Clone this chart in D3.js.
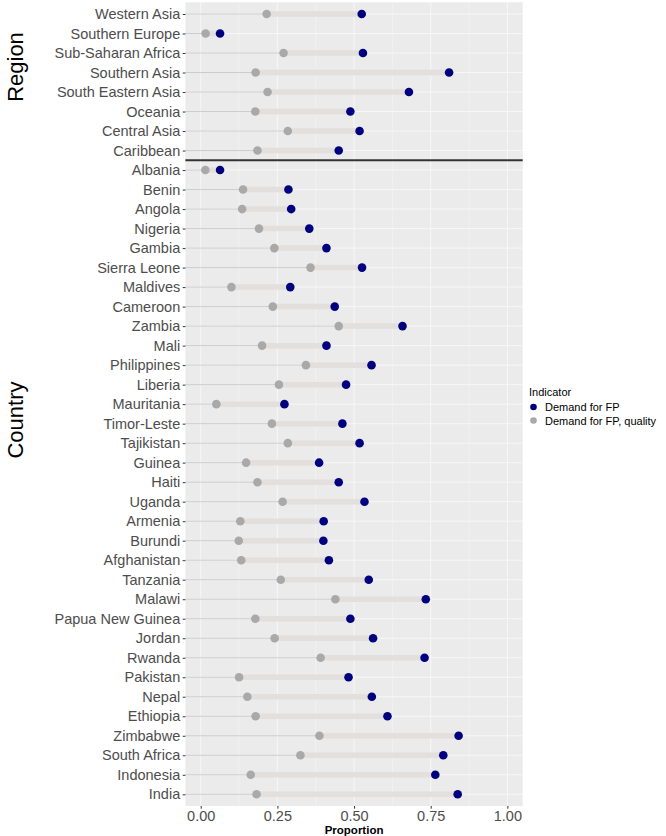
<!DOCTYPE html>
<html>
<head>
<meta charset="utf-8">
<script src="https://cdn.jsdelivr.net/npm/d3@7"></script>
<style>
  body { margin: 0; background: #fff; }
  svg text { font-family: "Liberation Sans", Arial, sans-serif; }
</style>
</head>
<body>
<svg id="chart"></svg>
<script>
// regions (top block) and countries (bottom block), listed top to bottom
const regions = ['Western Asia', 'Southern Europe', 'Sub-Saharan Africa', 'Southern Asia',
  'South Eastern Asia', 'Oceania', 'Central Asia', 'Caribbean'];
const regionDemand = [0.525, 0.063, 0.529, 0.810, 0.679, 0.488, 0.518, 0.450];
const regionQuality = [0.215, 0.016, 0.270, 0.179, 0.218, 0.178, 0.284, 0.185];

const countries = ['Albania', 'Benin', 'Angola', 'Nigeria', 'Gambia', 'Sierra Leone', 'Maldives',
  'Cameroon', 'Zambia', 'Mali', 'Philippines', 'Liberia', 'Mauritania', 'Timor-Leste', 'Tajikistan',
  'Guinea', 'Haiti', 'Uganda', 'Armenia', 'Burundi', 'Afghanistan', 'Tanzania', 'Malawi',
  'Papua New Guinea', 'Jordan', 'Rwanda', 'Pakistan', 'Nepal', 'Ethiopia', 'Zimbabwe',
  'South Africa', 'Indonesia', 'India'];
const countryDemand = [0.063, 0.286, 0.295, 0.354, 0.410, 0.526, 0.292, 0.437, 0.658, 0.410,
  0.557, 0.474, 0.273, 0.462, 0.518, 0.386, 0.450, 0.534, 0.401, 0.400, 0.418, 0.548, 0.734,
  0.488, 0.562, 0.730, 0.482, 0.558, 0.609, 0.841, 0.791, 0.765, 0.838];
const countryQuality = [0.015, 0.138, 0.135, 0.190, 0.240, 0.358, 0.100, 0.235, 0.450, 0.200,
  0.343, 0.255, 0.051, 0.232, 0.284, 0.148, 0.185, 0.267, 0.129, 0.124, 0.132, 0.261, 0.439,
  0.178, 0.241, 0.391, 0.125, 0.152, 0.179, 0.387, 0.325, 0.163, 0.182];

const xTicks = [0, 0.25, 0.5, 0.75, 1];
const xMinor = [0.125, 0.375, 0.625, 0.875];
const legendLabels = ['Demand for FP', 'Demand for FP, quality'];

const W = 666, H = 836;
const panel = {left: 185.4, right: 522.7, top: 2.3, bottom: 806};
const navy = '#00007f', grey = '#a9a9a9';

const rows = regions.map((r, i) => ({name: r, demand: regionDemand[i], quality: regionQuality[i]}))
  .concat(countries.map((c, i) => ({name: c, demand: countryDemand[i], quality: countryQuality[i]})));

const svg = d3.select('#chart').attr('width', W).attr('height', H);

const x = d3.scaleLinear().domain([-0.05, 1.05]).range([panel.left, panel.right]);
const y = d3.scalePoint().domain(rows.map(d => d.name))
  .range([panel.top, panel.bottom]).padding(0.6);

// panel background + grid
svg.append('rect')
  .attr('x', panel.left).attr('y', panel.top)
  .attr('width', panel.right - panel.left).attr('height', panel.bottom - panel.top)
  .attr('fill', '#ebebeb');

const grid = svg.append('g');
grid.selectAll('.minor').data(xMinor).join('line')
  .attr('x1', d => x(d)).attr('x2', d => x(d))
  .attr('y1', panel.top).attr('y2', panel.bottom)
  .attr('stroke', '#f5f5f5').attr('stroke-width', 0.6);
grid.selectAll('.major').data(xTicks).join('line')
  .attr('x1', d => x(d)).attr('x2', d => x(d))
  .attr('y1', panel.top).attr('y2', panel.bottom)
  .attr('stroke', '#f7f7f7').attr('stroke-width', 1);
grid.selectAll('.hrow').data(rows).join('line')
  .attr('x1', panel.left).attr('x2', panel.right)
  .attr('y1', d => y(d.name)).attr('y2', d => y(d.name))
  .attr('stroke', '#f7f7f7').attr('stroke-width', 1);

// thin stem up to the quality point
svg.append('g').selectAll('line').data(rows).join('line')
  .attr('x1', panel.left).attr('x2', d => x(d.quality))
  .attr('y1', d => y(d.name)).attr('y2', d => y(d.name))
  .attr('stroke', '#cccccc').attr('stroke-width', 1);

// thick band between quality and demand
svg.append('g').selectAll('line').data(rows).join('line')
  .attr('x1', d => x(d.quality)).attr('x2', d => x(d.demand))
  .attr('y1', d => y(d.name)).attr('y2', d => y(d.name))
  .attr('stroke', '#e2dfdc').attr('stroke-width', 5.5);

svg.append('g').selectAll('circle').data(rows).join('circle')
  .attr('cx', d => x(d.quality)).attr('cy', d => y(d.name)).attr('r', 4.3)
  .attr('fill', grey);
svg.append('g').selectAll('circle').data(rows).join('circle')
  .attr('cx', d => x(d.demand)).attr('cy', d => y(d.name)).attr('r', 4.3)
  .attr('fill', navy);

// divider between regions and countries
const yDiv = (y(regions[regions.length - 1]) + y(countries[0])) / 2;
svg.append('line')
  .attr('x1', panel.left).attr('x2', panel.right)
  .attr('y1', yDiv).attr('y2', yDiv)
  .attr('stroke', '#333').attr('stroke-width', 2);

// axes
const yAxis = svg.append('g')
  .attr('transform', `translate(${panel.left},0)`)
  .call(d3.axisLeft(y).tickSize(2.7).tickPadding(2.5));
yAxis.select('.domain').remove();
yAxis.selectAll('line').attr('stroke', '#333');
yAxis.selectAll('text').attr('fill', '#4d4d4d').style('font-size', '14.5px')
  .style('font-family', '"Liberation Sans", Arial, sans-serif');

const xAxis = svg.append('g')
  .attr('transform', `translate(0,${panel.bottom})`)
  .call(d3.axisBottom(x).tickValues(xTicks).tickFormat(d3.format('.2f')).tickSize(2.7).tickPadding(2));
xAxis.select('.domain').remove();
xAxis.selectAll('line').attr('stroke', '#333');
xAxis.selectAll('text').attr('fill', '#4d4d4d').style('font-size', '14.5px')
  .style('font-family', '"Liberation Sans", Arial, sans-serif');

svg.append('text')
  .attr('x', (panel.left + panel.right) / 2).attr('y', 833.5)
  .attr('text-anchor', 'middle')
  .style('font-size', '11.5px').style('font-weight', 'bold')
  .text('Proportion');

// section titles
svg.append('text')
  .attr('transform', 'translate(23,67) rotate(-90)')
  .attr('text-anchor', 'middle')
  .style('font-size', '22px')
  .text('Region');
svg.append('text')
  .attr('transform', 'translate(23,420) rotate(-90)')
  .attr('text-anchor', 'middle')
  .style('font-size', '22px')
  .text('Country');

// legend
const legend = svg.append('g').attr('transform', 'translate(529,0)');
legend.append('text').attr('x', 0).attr('y', 396)
  .style('font-size', '11px').text('Indicator');
legend.selectAll('circle').data(legendLabels).join('circle')
  .attr('cx', 4.5).attr('cy', (d, i) => 407 + i * 13.5).attr('r', 3.3)
  .attr('fill', (d, i) => i === 0 ? navy : grey);
legend.selectAll('.lab').data(legendLabels).join('text')
  .attr('x', 16).attr('y', (d, i) => 411 + i * 13.5)
  .style('font-size', '11px')
  .text(d => d);
</script>
</body>
</html>
